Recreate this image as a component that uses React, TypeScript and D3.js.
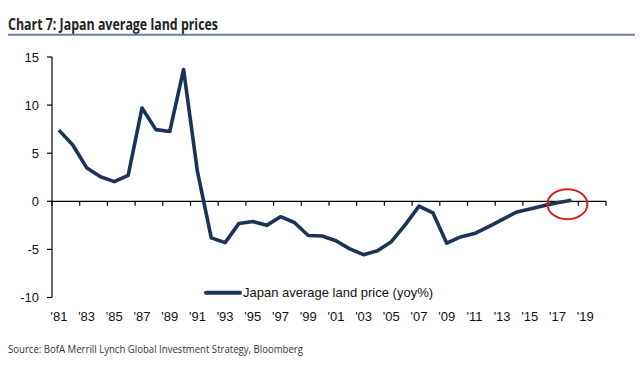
import React from "react";
import * as d3 from "d3";

const years: number[] = d3.range(1981, 2021);
const labelYears: number[] = d3.range(1981, 2020, 2);
const dataYears: number[] = d3.range(1981, 2019);
const values: number[] = [
  7.4, 5.85, 3.5, 2.55, 2.05, 2.7, 9.7, 7.45, 7.25, 13.7,
  3.1, -3.8, -4.3, -2.3, -2.1, -2.5, -1.6, -2.2, -3.55, -3.6,
  -4.1, -4.95, -5.55, -5.15, -4.2, -2.45, -0.5, -1.2, -4.35, -3.7,
  -3.35, -2.65, -1.9, -1.15, -0.8, -0.45, -0.15, 0.12,
];
const yTicks: number[] = [15, 10, 5, 0, -5, -10];
const title = "Chart 7: Japan average land prices";
const seriesName = "Japan average land price (yoy%)";
const source = "Source: BofA Merrill Lynch Global Investment Strategy, Bloomberg";
const highlightYear = 2018;

export default function App() {
  const W = 644, H = 381;
  const x = d3.scaleBand<number>().domain(years).range([52, 606]).padding(0);
  const y = d3.scaleLinear().domain([-10, 15]).range([297.5, 57]);
  const bw = x.bandwidth();
  const cx = (yr: number) => (x(yr) as number) + bw / 2;
  const line = d3
    .line<number>()
    .x((_, i) => cx(dataYears[i]))
    .y((v) => y(v));
  const path = line(values) || "";
  const tickEdges = d3.range(0, years.length + 1, 2).map((i) => 52 + i * bw);
  const hv = values[dataYears.indexOf(highlightYear)];
  const fontAx = "'Liberation Sans', Arial, sans-serif";
  return (
    <svg width={W} height={H} style={{ position: "absolute", left: 0, top: 0, background: "#fff" }}>
      <text x={8} y={30} fontFamily="'Liberation Sans Narrow', 'Open Sans', sans-serif" fontWeight="bold" fontSize={16} fill="#222" textLength={210} lengthAdjust="spacingAndGlyphs">
        {title}
      </text>
      <line x1={8} x2={635} y1={34.7} y2={34.7} stroke="#6d7ca2" strokeWidth={2} />
      {/* y axis */}
      <line x1={52} x2={52} y1={y(15)} y2={y(-10)} stroke="#000" strokeWidth={1.2} />
      {yTicks.map((t) => (
        <g key={t}>
          <line x1={47} x2={52} y1={y(t)} y2={y(t)} stroke="#000" strokeWidth={1.2} />
          <text x={39} y={y(t) + 4.5} textAnchor="end" fontFamily={fontAx} fontSize={13} fill="#111">
            {t}
          </text>
        </g>
      ))}
      {/* x axis */}
      <line x1={52} x2={606} y1={y(0)} y2={y(0)} stroke="#000" strokeWidth={1.2} />
      {tickEdges.map((tx, i) => (
        <line key={i} x1={tx} x2={tx} y1={y(0)} y2={y(0) + 4.5} stroke="#000" strokeWidth={1.2} />
      ))}
      {labelYears.map((yr) => (
        <text key={yr} x={cx(yr)} y={321} textAnchor="middle" fontFamily={fontAx} fontSize={13} fill="#111">
          {"'" + String(yr).slice(2)}
        </text>
      ))}
      <path d={path} fill="none" stroke="#1b3358" strokeWidth={3.6} strokeLinejoin="round" strokeLinecap="butt" />
      <ellipse cx={cx(highlightYear) - 4} cy={y(hv) + 4} rx={20} ry={15} fill="none" stroke="#e0191f" strokeWidth={2} />
      {/* legend */}
      <line x1={206} x2={240} y1={292.7} y2={292.7} stroke="#1b3358" strokeWidth={4} strokeLinecap="round" />
      <text x={243} y={297} fontFamily={fontAx} fontSize={13} fill="#111">
        {seriesName}
      </text>
      <text x={8} y={353} fontFamily="'Liberation Sans Narrow', 'Open Sans', sans-serif" fontSize={11.5} fill="#333" textLength={295} lengthAdjust="spacingAndGlyphs">
        {source}
      </text>
    </svg>
  );
}
